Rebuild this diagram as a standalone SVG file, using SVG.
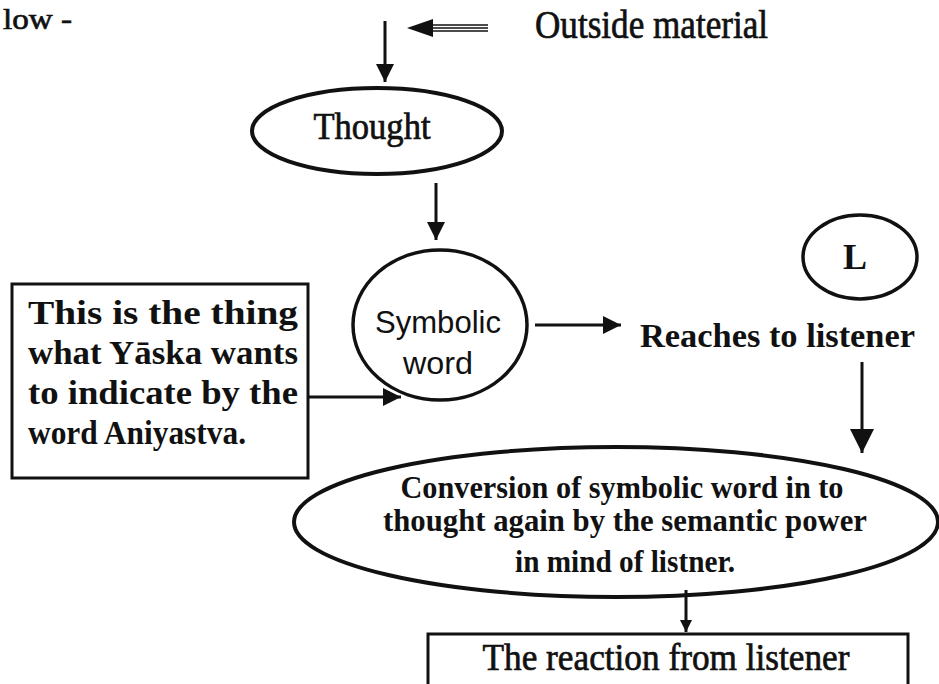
<svg xmlns="http://www.w3.org/2000/svg" width="939" height="684" viewBox="0 0 939 684">
<defs>
<style>
.ser{font-family:"Liberation Serif","Times New Roman",serif;fill:#111;}
.b{font-weight:bold;}
.sans{font-family:"Liberation Sans",Arial,sans-serif;fill:#111;}
.shape{fill:none;stroke:#111;}
.con{stroke:#111;stroke-width:3;fill:none;}
.heavy{stroke:#111;stroke-width:0.7;}
</style>
<marker id="ah" viewBox="0 0 10 10" refX="10" refY="5" markerWidth="24" markerHeight="18" markerUnits="userSpaceOnUse" orient="auto"><path d="M0,0 L10,5 L0,10 z" fill="#111"/></marker>
<marker id="ahl" viewBox="0 0 10 10" refX="10" refY="5" markerWidth="28" markerHeight="24" markerUnits="userSpaceOnUse" orient="auto"><path d="M0,0 L10,5 L0,10 z" fill="#111"/></marker>
<marker id="ahs" viewBox="0 0 10 10" refX="10" refY="5" markerWidth="14" markerHeight="12" markerUnits="userSpaceOnUse" orient="auto"><path d="M0,0 L10,5 L0,10 z" fill="#111"/></marker>
</defs>
<rect width="939" height="684" fill="#fff"/>

<text class="ser heavy" x="3" y="29" font-size="30" textLength="69" lengthAdjust="spacingAndGlyphs">low -</text>

<g id="outside">
<text class="ser heavy" x="535" y="38" font-size="40" textLength="233" lengthAdjust="spacingAndGlyphs">Outside material</text>
</g>

<g id="thought">
<ellipse class="shape" cx="377" cy="131" rx="125" ry="43" stroke-width="4"/>
<text class="ser heavy" x="372" y="139" font-size="37" text-anchor="middle" textLength="117" lengthAdjust="spacingAndGlyphs">Thought</text>
</g>

<g id="symbolic">
<ellipse class="shape" cx="440" cy="325" rx="87" ry="75" stroke-width="3.5"/>
<text class="sans" x="438" y="333" font-size="31" text-anchor="middle" textLength="126" lengthAdjust="spacingAndGlyphs">Symbolic</text>
<text class="sans" x="438" y="374" font-size="31" text-anchor="middle" textLength="70" lengthAdjust="spacingAndGlyphs">word</text>
</g>

<g id="note">
<rect class="shape" x="12" y="284" width="296" height="194" stroke-width="3"/>
<text class="ser b" x="28" y="324" font-size="33" textLength="270" lengthAdjust="spacingAndGlyphs">This is the thing</text>
<text class="ser b" x="28" y="364" font-size="33" textLength="270" lengthAdjust="spacingAndGlyphs">what  Yāska wants</text>
<text class="ser b" x="28" y="404" font-size="33" textLength="270" lengthAdjust="spacingAndGlyphs">to indicate by the</text>
<text class="ser b" x="28" y="444" font-size="33" textLength="218" lengthAdjust="spacingAndGlyphs">word Aniyastva.</text>
</g>

<g id="reaches">
<text class="ser b" x="640" y="347" font-size="34" textLength="275" lengthAdjust="spacingAndGlyphs">Reaches to listener</text>
</g>

<g id="listener">
<ellipse class="shape" cx="860" cy="257" rx="57" ry="42" stroke-width="3.5"/>
<text class="ser b" x="855" y="269" font-size="36" text-anchor="middle">L</text>
</g>

<g id="conversion">
<ellipse class="shape" cx="616" cy="522" rx="322" ry="75" stroke-width="4"/>
<text class="ser b" x="622" y="498" font-size="31" text-anchor="middle" textLength="443" lengthAdjust="spacingAndGlyphs">Conversion of symbolic word in to</text>
<text class="ser b" x="625" y="531" font-size="31" text-anchor="middle" textLength="484" lengthAdjust="spacingAndGlyphs">thought again by the semantic power</text>
<text class="ser b" x="625" y="572" font-size="31" text-anchor="middle" textLength="220" lengthAdjust="spacingAndGlyphs">in mind of listner.</text>
</g>

<g id="reaction">
<rect class="shape" x="428" y="634" width="480" height="60" stroke-width="3"/>
<text class="ser heavy" x="666" y="670" font-size="37" text-anchor="middle" textLength="367" lengthAdjust="spacingAndGlyphs">The reaction from listener</text>
</g>

<g id="connectors">
<g stroke="#111" stroke-width="1.3">
<line x1="428" y1="25" x2="488" y2="25"/>
<line x1="428" y1="28" x2="488" y2="28"/>
<line x1="428" y1="31" x2="488" y2="31"/>
</g>
<path d="M407,28 L433,19 L433,37 z" fill="#111"/>
<line class="con" x1="385" y1="21" x2="385" y2="82" marker-end="url(#ah)"/>
<line class="con" x1="436" y1="183" x2="436" y2="240" marker-end="url(#ah)"/>
<line class="con" x1="308" y1="397" x2="401" y2="397" marker-end="url(#ah)"/>
<line class="con" x1="535" y1="325" x2="621" y2="325" marker-end="url(#ah)"/>
<line class="con" x1="862" y1="362" x2="862" y2="453" marker-end="url(#ahl)"/>
<line class="con" stroke-width="2" x1="686" y1="590" x2="686" y2="632" marker-end="url(#ahs)"/>
</g>
</svg>
